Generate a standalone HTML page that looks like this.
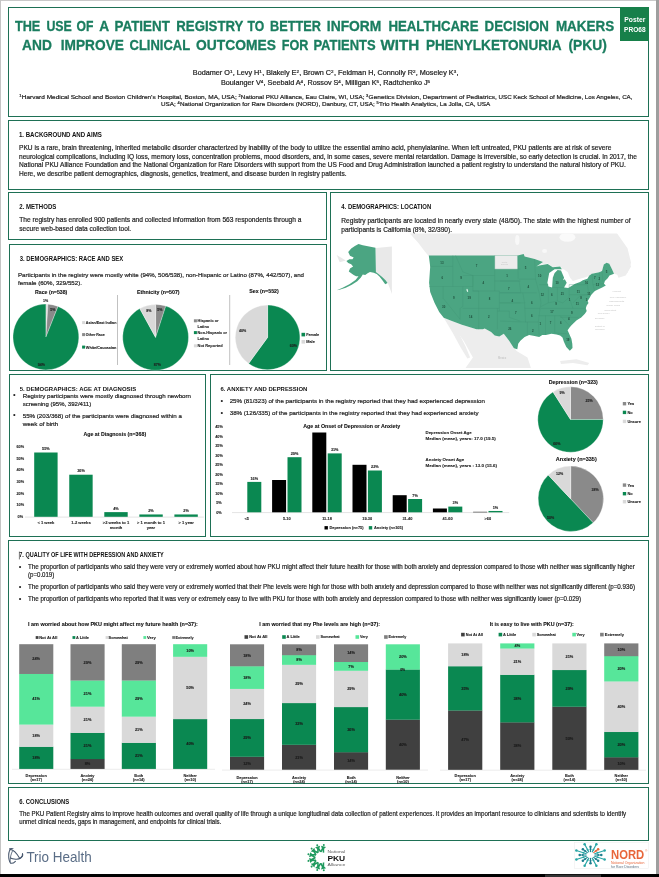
<!DOCTYPE html>
<html lang="en">
<head>
<meta charset="utf-8">
<title>The use of a patient registry to better inform healthcare decision makers - PKU poster</title>
<style>
html,body{margin:0;padding:0;background:#fff;}
body{width:659px;height:877px;overflow:hidden;position:relative;font-family:"Liberation Sans",sans-serif;}
svg{display:block;position:absolute;left:0;top:0;will-change:transform;}
svg text{font-family:"Liberation Sans",sans-serif;}
</style>
</head>
<body>
<svg width="659" height="877" viewBox="0 0 659 877" fill="#1f1f1f">
<rect x="0" y="0" width="659" height="877" fill="#fff"/>
<rect x="0" y="0" width="659" height="1" fill="#c9c9c9"/>
<rect x="0" y="0" width="1" height="877" fill="#c4c4c4"/>
<rect x="656" y="0" width="3" height="877" fill="#9e9e9e"/>
<rect x="0" y="874" width="659" height="3" fill="#000"/>
<rect x="545" y="874.6" width="56" height="2.4" fill="#333"/>
<rect x="8.5" y="7.5" width="640.0" height="109.0" fill="#fff" stroke="#1e7055" stroke-width="1.0"/>
<rect x="620" y="7" width="29" height="34" fill="#17804a"/>
<text x="634.8" y="21.7" font-size="6.6" font-weight="bold" fill="#fff" text-anchor="middle" textLength="21" lengthAdjust="spacingAndGlyphs">Poster</text>
<text x="634.8" y="31.6" font-size="6.6" font-weight="bold" fill="#fff" text-anchor="middle" textLength="21.5" lengthAdjust="spacingAndGlyphs">PRO68</text>
<text x="14.9" y="31.1" font-size="14.6" font-weight="bold" fill="#1a7d5f" textLength="25.4" lengthAdjust="spacingAndGlyphs" stroke="#1a7d5f" stroke-width="0.3">THE</text>
<text x="46.4" y="31.1" font-size="14.6" font-weight="bold" fill="#1a7d5f" textLength="25.5" lengthAdjust="spacingAndGlyphs" stroke="#1a7d5f" stroke-width="0.3">USE</text>
<text x="76.6" y="31.1" font-size="14.6" font-weight="bold" fill="#1a7d5f" textLength="16.9" lengthAdjust="spacingAndGlyphs" stroke="#1a7d5f" stroke-width="0.3">OF</text>
<text x="99.3" y="31.1" font-size="14.6" font-weight="bold" fill="#1a7d5f" textLength="9.9" lengthAdjust="spacingAndGlyphs" stroke="#1a7d5f" stroke-width="0.3">A</text>
<text x="114.6" y="31.1" font-size="14.6" font-weight="bold" fill="#1a7d5f" textLength="55.2" lengthAdjust="spacingAndGlyphs" stroke="#1a7d5f" stroke-width="0.3">PATIENT</text>
<text x="176.3" y="31.1" font-size="14.6" font-weight="bold" fill="#1a7d5f" textLength="67.1" lengthAdjust="spacingAndGlyphs" stroke="#1a7d5f" stroke-width="0.3">REGISTRY</text>
<text x="247.5" y="31.1" font-size="14.6" font-weight="bold" fill="#1a7d5f" textLength="16.7" lengthAdjust="spacingAndGlyphs" stroke="#1a7d5f" stroke-width="0.3">TO</text>
<text x="270.1" y="31.1" font-size="14.6" font-weight="bold" fill="#1a7d5f" textLength="50.9" lengthAdjust="spacingAndGlyphs" stroke="#1a7d5f" stroke-width="0.3">BETTER</text>
<text x="326.8" y="31.1" font-size="14.6" font-weight="bold" fill="#1a7d5f" textLength="54.6" lengthAdjust="spacingAndGlyphs" stroke="#1a7d5f" stroke-width="0.3">INFORM</text>
<text x="388.4" y="31.1" font-size="14.6" font-weight="bold" fill="#1a7d5f" textLength="90.1" lengthAdjust="spacingAndGlyphs" stroke="#1a7d5f" stroke-width="0.3">HEALTHCARE</text>
<text x="484.6" y="31.1" font-size="14.6" font-weight="bold" fill="#1a7d5f" textLength="64.4" lengthAdjust="spacingAndGlyphs" stroke="#1a7d5f" stroke-width="0.3">DECISION</text>
<text x="555.9" y="31.1" font-size="14.6" font-weight="bold" fill="#1a7d5f" textLength="58.4" lengthAdjust="spacingAndGlyphs" stroke="#1a7d5f" stroke-width="0.3">MAKERS</text>
<text x="22.1" y="50.2" font-size="14.6" font-weight="bold" fill="#1a7d5f" textLength="29.8" lengthAdjust="spacingAndGlyphs" stroke="#1a7d5f" stroke-width="0.3">AND</text>
<text x="60.8" y="50.2" font-size="14.6" font-weight="bold" fill="#1a7d5f" textLength="63.1" lengthAdjust="spacingAndGlyphs" stroke="#1a7d5f" stroke-width="0.3">IMPROVE</text>
<text x="129.6" y="50.2" font-size="14.6" font-weight="bold" fill="#1a7d5f" textLength="60.5" lengthAdjust="spacingAndGlyphs" stroke="#1a7d5f" stroke-width="0.3">CLINICAL</text>
<text x="196.0" y="50.2" font-size="14.6" font-weight="bold" fill="#1a7d5f" textLength="79.9" lengthAdjust="spacingAndGlyphs" stroke="#1a7d5f" stroke-width="0.3">OUTCOMES</text>
<text x="281.8" y="50.2" font-size="14.6" font-weight="bold" fill="#1a7d5f" textLength="26.7" lengthAdjust="spacingAndGlyphs" stroke="#1a7d5f" stroke-width="0.3">FOR</text>
<text x="313.4" y="50.2" font-size="14.6" font-weight="bold" fill="#1a7d5f" textLength="62.3" lengthAdjust="spacingAndGlyphs" stroke="#1a7d5f" stroke-width="0.3">PATIENTS</text>
<text x="380.4" y="50.2" font-size="14.6" font-weight="bold" fill="#1a7d5f" textLength="38.9" lengthAdjust="spacingAndGlyphs" stroke="#1a7d5f" stroke-width="0.3">WITH</text>
<text x="425.9" y="50.2" font-size="14.6" font-weight="bold" fill="#1a7d5f" textLength="135.8" lengthAdjust="spacingAndGlyphs" stroke="#1a7d5f" stroke-width="0.3">PHENYLKETONURIA</text>
<text x="568.4" y="50.2" font-size="14.6" font-weight="bold" fill="#1a7d5f" textLength="38.4" lengthAdjust="spacingAndGlyphs" stroke="#1a7d5f" stroke-width="0.3">(PKU)</text>
<text x="192.8" y="75.0" font-size="6.3" textLength="265.7" lengthAdjust="spacingAndGlyphs" stroke="#1f1f1f" stroke-width="0.2">Bodamer O<tspan font-size="62%" dy="-2.2">1</tspan><tspan dy="2.2" font-size="1"> </tspan>, Levy H<tspan font-size="62%" dy="-2.2">1</tspan><tspan dy="2.2" font-size="1"> </tspan>, Blakely E<tspan font-size="62%" dy="-2.2">2</tspan><tspan dy="2.2" font-size="1"> </tspan>, Brown C<tspan font-size="62%" dy="-2.2">2</tspan><tspan dy="2.2" font-size="1"> </tspan>, Feldman H, Connolly R<tspan font-size="62%" dy="-2.2">2</tspan><tspan dy="2.2" font-size="1"> </tspan>, Moseley K<tspan font-size="62%" dy="-2.2">3</tspan><tspan dy="2.2" font-size="1"> </tspan>,</text>
<text x="221" y="84.9" font-size="6.3" textLength="209.1" lengthAdjust="spacingAndGlyphs" stroke="#1f1f1f" stroke-width="0.2">Boulanger V<tspan font-size="62%" dy="-2.2">4</tspan><tspan dy="2.2" font-size="1"> </tspan>, Seebald A<tspan font-size="62%" dy="-2.2">4</tspan><tspan dy="2.2" font-size="1"> </tspan>, Rossov S<tspan font-size="62%" dy="-2.2">4</tspan><tspan dy="2.2" font-size="1"> </tspan>, Milligan K<tspan font-size="62%" dy="-2.2">5</tspan><tspan dy="2.2" font-size="1"> </tspan>, Radtchenko J<tspan font-size="62%" dy="-2.2">5</tspan><tspan dy="2.2" font-size="1"> </tspan></text>
<text x="19.3" y="98.9" font-size="5.9" textLength="217.4" lengthAdjust="spacingAndGlyphs" stroke="#1f1f1f" stroke-width="0.2"><tspan font-size="62%" dy="-2.2">1</tspan><tspan dy="2.2" font-size="1"> </tspan>Harvard Medical School and Boston Children’s Hospital, Boston, MA, USA;</text>
<text x="238.4" y="98.9" font-size="5.9" textLength="126.0" lengthAdjust="spacingAndGlyphs" stroke="#1f1f1f" stroke-width="0.2"><tspan font-size="62%" dy="-2.2">2</tspan><tspan dy="2.2" font-size="1"> </tspan>National PKU Alliance, Eau Claire, WI, USA;</text>
<text x="366.0" y="98.9" font-size="5.9" textLength="130.8" lengthAdjust="spacingAndGlyphs" stroke="#1f1f1f" stroke-width="0.2"><tspan font-size="62%" dy="-2.2">3</tspan><tspan dy="2.2" font-size="1"> </tspan>Genetics Division, Department of Pediatrics,</text>
<text x="498.5" y="98.9" font-size="5.9" textLength="134.0" lengthAdjust="spacingAndGlyphs" stroke="#1f1f1f" stroke-width="0.2">USC Keck School of Medicine, Los Angeles, CA,</text>
<text x="161" y="106.3" font-size="5.9" textLength="329.2" lengthAdjust="spacingAndGlyphs" stroke="#1f1f1f" stroke-width="0.2">USA; <tspan font-size="62%" dy="-2.2">4</tspan><tspan dy="2.2" font-size="1"> </tspan>National Organization for Rare Disorders (NORD), Danbury, CT, USA; <tspan font-size="62%" dy="-2.2">5</tspan><tspan dy="2.2" font-size="1"> </tspan>Trio Health Analytics, La Jolla, CA, USA</text>
<rect x="8.5" y="120.5" width="640.0" height="69.0" fill="#fff" stroke="#1e7055" stroke-width="1.0"/>
<text x="18.9" y="136.7" font-size="6.6" font-weight="bold" fill="#111" textLength="83" lengthAdjust="spacingAndGlyphs">1. BACKGROUND AND AIMS</text>
<text x="19" y="149.9" font-size="6.7" textLength="592.4" lengthAdjust="spacingAndGlyphs" stroke="#1f1f1f" stroke-width="0.2">PKU is a rare, brain threatening, inherited metabolic disorder characterized by inability of the body to utilize the essential amino acid, phenylalanine. When left untreated, PKU patients are at risk of severe</text>
<text x="19" y="158.5" font-size="6.7" textLength="617.8" lengthAdjust="spacingAndGlyphs" stroke="#1f1f1f" stroke-width="0.2">neurological complications, including IQ loss, memory loss, concentration problems, mood disorders, and, in some cases, severe mental retardation. Damage is irreversible, so early detection is crucial. In 2017, the</text>
<text x="19" y="167.1" font-size="6.7" textLength="606.8" lengthAdjust="spacingAndGlyphs" stroke="#1f1f1f" stroke-width="0.2">National PKU Alliance Foundation and the National Organization for Rare Disorders with support from the US Food and Drug Administration launched a patient registry to understand the natural history of PKU.</text>
<text x="19" y="175.7" font-size="6.7" textLength="327.5" lengthAdjust="spacingAndGlyphs" stroke="#1f1f1f" stroke-width="0.2">Here, we describe patient demographics, diagnosis, genetics, treatment, and disease burden in registry patients.</text>
<rect x="8.5" y="192.5" width="318.0" height="47.0" fill="#fff" stroke="#1e7055" stroke-width="1.0"/>
<text x="19.3" y="208.8" font-size="6.3" font-weight="bold" fill="#111" textLength="37" lengthAdjust="spacingAndGlyphs">2. METHODS</text>
<text x="19.3" y="222" font-size="6.9" textLength="282.2" lengthAdjust="spacingAndGlyphs" stroke="#1f1f1f" stroke-width="0.2">The registry has enrolled 900 patients and collected information from 563 respondents through a</text>
<text x="19.3" y="230.8" font-size="6.9" textLength="111.9" lengthAdjust="spacingAndGlyphs" stroke="#1f1f1f" stroke-width="0.2">secure web-based data collection tool.</text>
<rect x="9.5" y="244.5" width="317.0" height="126.0" fill="#fff" stroke="#1e7055" stroke-width="1.0"/>
<text x="19.8" y="260.6" font-size="6.3" font-weight="bold" fill="#111" textLength="103.4" lengthAdjust="spacingAndGlyphs">3. DEMOGRAPHICS: RACE AND SEX</text>
<text x="18" y="277.0" font-size="6.1" textLength="286" lengthAdjust="spacingAndGlyphs" stroke="#1f1f1f" stroke-width="0.2">Participants in the registry were mostly white (94%, 506/538), non-Hispanic or Latino (87%, 442/507), and</text>
<text x="18" y="285.1" font-size="6.1" textLength="63.9" lengthAdjust="spacingAndGlyphs" stroke="#1f1f1f" stroke-width="0.2">female (60%, 329/552).</text>
<text x="51.2" y="293.8" font-size="5.2" font-weight="bold" fill="#111" text-anchor="middle" textLength="32.3" lengthAdjust="spacingAndGlyphs" stroke="#111" stroke-width="0.1">Race (n=538)</text>
<path d="M45.90,337.00 L45.90,304.10 A32.9,32.9 0 0 1 47.97,304.16 Z" fill="#d9d9d9" stroke="#fff" stroke-width="0.3"/>
<path d="M45.90,337.00 L47.97,304.16 A32.9,32.9 0 0 1 58.01,306.41 Z" fill="#8a8a8a" stroke="#fff" stroke-width="0.3"/>
<path d="M45.90,337.00 L58.01,306.41 A32.9,32.9 0 1 1 45.90,304.10 Z" fill="#0a8851" stroke="#fff" stroke-width="0.3"/>
<text x="45.5" y="302" font-size="3.6" font-weight="bold" text-anchor="middle" stroke="#1f1f1f" stroke-width="0.1">1%</text>
<text x="52.8" y="310.6" font-size="3.6" font-weight="bold" text-anchor="middle" stroke="#1f1f1f" stroke-width="0.1">5%</text>
<text x="41.3" y="366.4" font-size="3.6" font-weight="bold" text-anchor="middle" stroke="#1f1f1f" stroke-width="0.1">94%</text>
<rect x="82.1" y="321.1" width="3" height="3" fill="#d9d9d9"/>
<text x="85.8" y="324.0" font-size="4.0" font-weight="bold" textLength="30.6" lengthAdjust="spacingAndGlyphs" stroke="#1f1f1f" stroke-width="0.1">Asian/East Indian</text>
<rect x="82.1" y="333.1" width="3" height="3" fill="#8a8a8a"/>
<text x="85.8" y="336.0" font-size="4.0" font-weight="bold" textLength="19" lengthAdjust="spacingAndGlyphs" stroke="#1f1f1f" stroke-width="0.1">Other Race</text>
<rect x="82.1" y="345.6" width="3" height="3" fill="#0a8851"/>
<text x="85.8" y="348.5" font-size="4.0" font-weight="bold" textLength="30.6" lengthAdjust="spacingAndGlyphs" stroke="#1f1f1f" stroke-width="0.1">White/Caucasian</text>
<line x1="117.5" y1="295" x2="117.5" y2="365" stroke="#a6a6a6" stroke-width="0.7"/>
<text x="158.3" y="293.8" font-size="5.2" font-weight="bold" fill="#111" text-anchor="middle" textLength="42.6" lengthAdjust="spacingAndGlyphs" stroke="#111" stroke-width="0.1">Ethnicity (n=507)</text>
<path d="M155.60,337.40 L155.60,304.50 A32.9,32.9 0 0 1 165.77,306.11 Z" fill="#8a8a8a" stroke="#fff" stroke-width="0.3"/>
<path d="M155.60,337.40 L165.77,306.11 A32.9,32.9 0 1 1 139.75,308.57 Z" fill="#0a8851" stroke="#fff" stroke-width="0.3"/>
<path d="M155.60,337.40 L139.75,308.57 A32.9,32.9 0 0 1 155.60,304.50 Z" fill="#d9d9d9" stroke="#fff" stroke-width="0.3"/>
<text x="148.8" y="311.6" font-size="3.6" font-weight="bold" text-anchor="middle" stroke="#1f1f1f" stroke-width="0.1">8%</text>
<text x="159.8" y="311.0" font-size="3.6" font-weight="bold" text-anchor="middle" stroke="#1f1f1f" stroke-width="0.1">5%</text>
<text x="157.4" y="366.4" font-size="3.6" font-weight="bold" text-anchor="middle" stroke="#1f1f1f" stroke-width="0.1">87%</text>
<rect x="193.9" y="319.3" width="3" height="3" fill="#8a8a8a"/>
<text x="197.6" y="322.2" font-size="4.0" font-weight="bold" textLength="21" lengthAdjust="spacingAndGlyphs" stroke="#1f1f1f" stroke-width="0.1">Hispanic or</text>
<text x="197.6" y="327.7" font-size="4.0" font-weight="bold" textLength="11.5" lengthAdjust="spacingAndGlyphs" stroke="#1f1f1f" stroke-width="0.1">Latino</text>
<rect x="193.9" y="331.1" width="3" height="3" fill="#0a8851"/>
<text x="197.6" y="334.0" font-size="4.0" font-weight="bold" textLength="29.4" lengthAdjust="spacingAndGlyphs" stroke="#1f1f1f" stroke-width="0.1">Non-Hispanic or</text>
<text x="197.6" y="339.5" font-size="4.0" font-weight="bold" textLength="11.5" lengthAdjust="spacingAndGlyphs" stroke="#1f1f1f" stroke-width="0.1">Latino</text>
<rect x="193.9" y="344.3" width="3" height="3" fill="#d9d9d9"/>
<text x="197.6" y="347.2" font-size="4.0" font-weight="bold" textLength="25" lengthAdjust="spacingAndGlyphs" stroke="#1f1f1f" stroke-width="0.1">Not Reported</text>
<line x1="229.7" y1="295" x2="229.7" y2="365" stroke="#a6a6a6" stroke-width="0.7"/>
<text x="264" y="292.9" font-size="5.2" font-weight="bold" fill="#111" text-anchor="middle" textLength="29.7" lengthAdjust="spacingAndGlyphs" stroke="#111" stroke-width="0.1">Sex (n=552)</text>
<path d="M267.60,337.40 L267.60,305.10 A32.3,32.3 0 1 1 248.61,363.53 Z" fill="#0a8851" stroke="#fff" stroke-width="0.3"/>
<path d="M267.60,337.40 L248.61,363.53 A32.3,32.3 0 0 1 267.60,305.10 Z" fill="#d9d9d9" stroke="#fff" stroke-width="0.3"/>
<text x="242.7" y="331.7" font-size="3.6" font-weight="bold" text-anchor="middle" stroke="#1f1f1f" stroke-width="0.1">40%</text>
<text x="293.4" y="346.7" font-size="3.6" font-weight="bold" text-anchor="middle" stroke="#1f1f1f" stroke-width="0.1">60%</text>
<rect x="301.5" y="332.8" width="3.6" height="3.6" fill="#0a8851"/>
<text x="306.2" y="336.1" font-size="4.0" font-weight="bold" textLength="13" lengthAdjust="spacingAndGlyphs" stroke="#1f1f1f" stroke-width="0.1">Female</text>
<rect x="301.5" y="340.0" width="3.6" height="3.6" fill="#d9d9d9"/>
<text x="306.2" y="343.3" font-size="4.0" font-weight="bold" textLength="8.6" lengthAdjust="spacingAndGlyphs" stroke="#1f1f1f" stroke-width="0.1">Male</text>
<rect x="330.5" y="192.5" width="318.0" height="178.0" fill="#fff" stroke="#1e7055" stroke-width="1.0"/>
<text x="341.3" y="208.8" font-size="6.3" font-weight="bold" fill="#111" textLength="89.9" lengthAdjust="spacingAndGlyphs">4. DEMOGRAPHICS: LOCATION</text>
<text x="341.3" y="223.4" font-size="6.9" textLength="289.3" lengthAdjust="spacingAndGlyphs" stroke="#1f1f1f" stroke-width="0.2">Registry participants are located in nearly every state (48/50). The state with the highest number of</text>
<text x="341.3" y="232.2" font-size="6.9" textLength="110.7" lengthAdjust="spacingAndGlyphs" stroke="#1f1f1f" stroke-width="0.2">participants is California (8%, 32/390).</text>
<g id="usmap">
<clipPath id="mapclip"><rect x="336" y="233.6" width="309" height="134.4"/></clipPath>
<g clip-path="url(#mapclip)">
<polygon points="409.1,232.7 418.2,242.8 423.7,250.0 427.3,254.6 428.8,255.9 520.2,255.9 520.0,255.9 524.6,257.3 534.6,260.1 542.8,262.4 539.2,265.5 545.5,264.2 552.8,267.3 560.1,266.4 562.8,269.7 561.0,270.4 564.1,277.7 566.7,282.8 564.1,287.6 568.3,287.9 574.7,283.9 580.1,282.1 582.9,280.3 587.4,278.8 589.3,275.5 592.0,273.7 599.3,272.3 602.0,271.0 603.8,264.6 606.6,262.8 609.3,263.7 612.0,269.2 614.0,273.7 620.2,275.5 627.5,272.8 631.1,262.8 627.5,248.2 616.6,232.7" fill="#ededed"/>
<polygon points="615.1,257.3 621.1,254.6 627.5,257.3 631.1,266.4 625.7,275.5 618.4,277.7 616.6,272.8 620.2,269.2 616.6,264.6" fill="#ededed"/>
<polygon points="536.4,266.4 539.2,265.2 547.7,263.5 553.2,267.2 560.1,266.2 562.8,269.3 554.6,269.3 549.2,267.3 542.8,266.4" fill="#fff"/>
<polygon points="561.0,270.4 564.1,277.7 566.7,282.8 564.1,287.6 568.3,287.9 574.7,283.9 580.1,282.1 582.9,280.3 587.4,278.8 589.3,275.9 583.8,277.7 578.3,279.2 572.9,281.0 570.1,277.7 567.8,272.3 563.8,269.2" fill="#fff"/>
<ellipse cx="517.3" cy="240.0" rx="2.2" ry="5" fill="#f8f8f8"/>
<ellipse cx="567.4" cy="237.3" rx="8" ry="4.5" fill="#fafafa"/>
<ellipse cx="544.6" cy="250.9" rx="2.5" ry="2" fill="#f8f8f8"/>
<polygon points="451.9,321.1 461.9,324.7 476.5,329.3 482.9,329.3 484.7,328.4 491.1,332.0 494.7,335.6 499.3,336.6 503.8,333.8 509.3,341.1 514.8,348.4 516.6,351.1 527.5,357.5 531.1,368.4 538.4,375.7 460.1,375.7 472.9,357.5 463.8,341.1 454.6,328.4" fill="#ededed"/>
<polygon points="443.7,317.8 451.9,321.1 458.3,332.0 465.6,346.6 470.1,357.5 467.4,358.4 460.1,346.6 452.8,332.9" fill="#ededed"/>
<polygon points="560.1,361.1 576.5,359.3 589.3,363.0 587.4,365.2 572.9,363.0 561.0,363.9" fill="#ededed"/>
<polygon points="428.8,255.5 430.2,266.4 429.1,282.8 430.2,291.9 434.6,302.9 439.2,312.0 443.7,317.8 451.9,321.1 461.9,324.7 476.5,329.3 482.9,329.3 484.7,328.4 491.1,332.0 494.7,335.6 499.3,336.6 503.8,333.8 509.3,341.1 513.8,348.0 514.8,348.4 517.3,349.3 518.2,343.8 520.4,340.7 524.6,337.1 529.1,334.9 534.6,336.0 539.2,337.1 542.3,334.9 545.9,335.1 551.4,333.8 556.5,334.6 560.1,335.6 562.5,337.5 563.9,341.8 566.3,347.1 569.8,350.8 572.5,348.0 572.3,343.8 571.4,338.7 569.4,334.2 567.6,330.2 570.3,326.5 573.0,323.8 576.7,320.2 581.2,317.4 584.9,313.8 586.7,311.1 585.8,308.3 586.7,305.6 588.5,302.9 587.6,301.0 589.4,298.3 591.3,294.7 594.9,291.0 598.5,289.2 602.2,287.4 605.8,285.6 604.0,283.7 604.9,281.0 607.7,278.3 609.5,275.5 614.0,273.7 612.0,269.2 609.3,263.7 606.6,262.8 603.8,264.6 602.0,271.0 599.3,272.3 592.0,273.7 589.3,275.5 587.4,278.8 582.9,280.3 580.1,282.1 574.7,283.9 568.3,287.9 564.1,287.6 566.7,282.8 564.8,279.2 563.0,280.3 564.1,277.7 561.0,270.4 557.6,270.1 554.6,273.0 552.8,277.7 552.1,287.4 548.5,286.5 547.4,282.8 549.2,273.0 554.6,269.3 561.9,269.3 560.1,266.4 552.8,267.3 547.7,263.9 539.2,265.5 536.4,266.4 543.0,262.1 534.6,259.1 524.6,256.6 523.7,254.0 517.7,255.5" fill="#4ba582"/>
<ellipse cx="467.3" cy="290.4" rx="0.7" ry="1.6" fill="#d9f3e6" transform="rotate(-20 467.3 290.4)"/>
<rect x="494.7" y="255.6" width="22.9" height="13.6" fill="#ececec"/>
<polyline points="430.1,266.4 452.8,266.4" fill="none" stroke="#419574" stroke-width="0.35"/>
<polyline points="452.8,255.5 452.8,286.5" fill="none" stroke="#419574" stroke-width="0.35"/>
<polyline points="455.6,255.5 462.8,271.9 472.9,275.5 472.9,291.0" fill="none" stroke="#419574" stroke-width="0.35"/>
<polyline points="429.1,286.5 472.9,286.5" fill="none" stroke="#419574" stroke-width="0.35"/>
<polyline points="443.2,286.5 443.2,298.3 460.1,319.3" fill="none" stroke="#419574" stroke-width="0.35"/>
<polyline points="462.8,286.5 462.8,306.5 460.1,308.3 460.1,319.3" fill="none" stroke="#419574" stroke-width="0.35"/>
<polyline points="472.9,291.0 478.7,291.0" fill="none" stroke="#419574" stroke-width="0.35"/>
<polyline points="478.7,291.0 478.7,329.3" fill="none" stroke="#419574" stroke-width="0.35"/>
<polyline points="462.8,275.5 494.7,275.5" fill="none" stroke="#419574" stroke-width="0.35"/>
<polyline points="472.9,275.5 472.9,286.5" fill="none" stroke="#419574" stroke-width="0.35"/>
<polyline points="472.9,291.0 499.3,291.0" fill="none" stroke="#419574" stroke-width="0.35"/>
<polyline points="494.7,255.5 494.7,291.0" fill="none" stroke="#419574" stroke-width="0.35"/>
<polyline points="462.8,308.3 499.3,308.3" fill="none" stroke="#419574" stroke-width="0.35"/>
<polyline points="499.3,291.0 499.3,311.1" fill="none" stroke="#419574" stroke-width="0.35"/>
<polyline points="497.4,308.3 497.4,329.3" fill="none" stroke="#419574" stroke-width="0.35"/>
<polyline points="494.7,269.2 520.2,269.2" fill="none" stroke="#419574" stroke-width="0.35"/>
<polyline points="494.7,281.0 520.2,281.0" fill="none" stroke="#419574" stroke-width="0.35"/>
<polyline points="499.3,292.8 520.2,292.8" fill="none" stroke="#419574" stroke-width="0.35"/>
<polyline points="499.3,302.9 520.2,302.9" fill="none" stroke="#419574" stroke-width="0.35"/>
<polyline points="497.4,311.1 509.3,311.1 509.3,317.4 520.2,321.1" fill="none" stroke="#419574" stroke-width="0.35"/>
<polyline points="517.7,255.5 518.2,279.2" fill="none" stroke="#419574" stroke-width="0.35"/>
<polyline points="519.1,279.2 535.5,279.2" fill="none" stroke="#419574" stroke-width="0.35"/>
<polyline points="500.0,281.0 519.1,281.0 520.9,292.8" fill="none" stroke="#419574" stroke-width="0.35"/>
<polyline points="500.0,292.8 536.4,292.8" fill="none" stroke="#419574" stroke-width="0.35"/>
<polyline points="500.0,302.9 524.6,302.9 525.5,322.0" fill="none" stroke="#419574" stroke-width="0.35"/>
<polyline points="522.8,292.8 524.6,302.9" fill="none" stroke="#419574" stroke-width="0.35"/>
<polyline points="524.6,308.3 540.1,308.3" fill="none" stroke="#419574" stroke-width="0.35"/>
<polyline points="525.5,322.0 538.3,322.0" fill="none" stroke="#419574" stroke-width="0.35"/>
<polyline points="500.0,321.1 525.5,322.0" fill="none" stroke="#419574" stroke-width="0.35"/>
<polyline points="527.3,322.0 527.3,335.6" fill="none" stroke="#419574" stroke-width="0.35"/>
<polyline points="535.5,279.2 539.2,292.8 541.0,302.9 540.1,308.3 538.3,322.0 539.2,334.7" fill="none" stroke="#419574" stroke-width="0.35"/>
<polyline points="534.6,259.1 535.5,279.2" fill="none" stroke="#419574" stroke-width="0.35"/>
<polyline points="539.2,284.6 548.3,284.6" fill="none" stroke="#419574" stroke-width="0.35"/>
<polyline points="548.3,287.4 548.3,302.9 541.0,306.5" fill="none" stroke="#419574" stroke-width="0.35"/>
<polyline points="557.4,287.4 557.4,301.0" fill="none" stroke="#419574" stroke-width="0.35"/>
<polyline points="552.1,287.4 564.1,287.6" fill="none" stroke="#419574" stroke-width="0.35"/>
<polyline points="569.2,284.6 569.2,297.4" fill="none" stroke="#419574" stroke-width="0.35"/>
<polyline points="569.2,284.6 587.4,284.6" fill="none" stroke="#419574" stroke-width="0.35"/>
<polyline points="569.2,294.7 587.4,294.7" fill="none" stroke="#419574" stroke-width="0.35"/>
<polyline points="541.0,308.3 572.9,308.3 585.6,308.3" fill="none" stroke="#419574" stroke-width="0.35"/>
<polyline points="538.3,315.6 571.0,315.6" fill="none" stroke="#419574" stroke-width="0.35"/>
<polyline points="545.5,315.6 545.5,334.7" fill="none" stroke="#419574" stroke-width="0.35"/>
<polyline points="554.6,315.6 554.6,332.9" fill="none" stroke="#419574" stroke-width="0.35"/>
<polyline points="554.6,332.9 566.7,333.8" fill="none" stroke="#419574" stroke-width="0.35"/>
<polyline points="560.1,315.6 570.1,326.5" fill="none" stroke="#419574" stroke-width="0.35"/>
<polyline points="560.1,317.4 578.3,317.4" fill="none" stroke="#419574" stroke-width="0.35"/>
<polyline points="548.3,302.9 557.4,301.0 562.8,302.9 569.2,297.4" fill="none" stroke="#419574" stroke-width="0.35"/>
<polyline points="569.2,297.4 572.9,308.3" fill="none" stroke="#419574" stroke-width="0.35"/>
<polyline points="572.9,302.9 580.1,295.6 587.4,294.7" fill="none" stroke="#419574" stroke-width="0.35"/>
<polyline points="587.4,284.6 588.3,291.0 591.1,294.7" fill="none" stroke="#419574" stroke-width="0.35"/>
<polyline points="592.0,273.7 592.9,284.6 594.7,291.0" fill="none" stroke="#419574" stroke-width="0.35"/>
<polyline points="592.9,284.6 603.8,283.7" fill="none" stroke="#419574" stroke-width="0.35"/>
<polyline points="599.3,272.3 599.8,282.8" fill="none" stroke="#419574" stroke-width="0.35"/>
<polyline points="602.0,271.0 602.9,281.9" fill="none" stroke="#419574" stroke-width="0.35"/>
<text x="441.9" y="263.8" font-size="2.9" font-weight="bold" fill="#1f4f3c" text-anchor="middle">13</text>
<text x="476.5" y="266.5" font-size="2.9" font-weight="bold" fill="#1f4f3c" text-anchor="middle">7</text>
<text x="442.3" y="279.3" font-size="2.9" font-weight="bold" fill="#1f4f3c" text-anchor="middle">6</text>
<text x="461.0" y="278.7" font-size="2.9" font-weight="bold" fill="#1f4f3c" text-anchor="middle">9</text>
<text x="483.4" y="283.8" font-size="2.9" font-weight="bold" fill="#1f4f3c" text-anchor="middle">4</text>
<text x="453.7" y="299.3" font-size="2.9" font-weight="bold" fill="#1f4f3c" text-anchor="middle">9</text>
<text x="469.2" y="299.3" font-size="2.9" font-weight="bold" fill="#1f4f3c" text-anchor="middle">19</text>
<text x="489.6" y="300.2" font-size="2.9" font-weight="bold" fill="#1f4f3c" text-anchor="middle">8</text>
<text x="443.7" y="307.5" font-size="2.9" font-weight="bold" fill="#1f4f3c" text-anchor="middle">30</text>
<text x="470.7" y="318.1" font-size="2.9" font-weight="bold" fill="#1f4f3c" text-anchor="middle">14</text>
<text x="488.7" y="318.1" font-size="2.9" font-weight="bold" fill="#1f4f3c" text-anchor="middle">2</text>
<text x="507.1" y="277.4" font-size="2.9" font-weight="bold" fill="#1f4f3c" text-anchor="middle">1</text>
<text x="508.9" y="290.2" font-size="2.9" font-weight="bold" fill="#1f4f3c" text-anchor="middle">7</text>
<text x="512.4" y="302.0" font-size="2.9" font-weight="bold" fill="#1f4f3c" text-anchor="middle">4</text>
<text x="515.8" y="314.4" font-size="2.9" font-weight="bold" fill="#1f4f3c" text-anchor="middle">7</text>
<text x="509.8" y="330.3" font-size="2.9" font-weight="bold" fill="#1f4f3c" text-anchor="middle">26</text>
<text x="525.5" y="269.3" font-size="2.9" font-weight="bold" fill="#1f4f3c" text-anchor="middle">5</text>
<text x="539.7" y="277.4" font-size="2.9" font-weight="bold" fill="#1f4f3c" text-anchor="middle">10</text>
<text x="528.2" y="288.4" font-size="2.9" font-weight="bold" fill="#1f4f3c" text-anchor="middle">4</text>
<text x="557.0" y="283.5" font-size="2.9" font-weight="bold" fill="#1f4f3c" text-anchor="middle">10</text>
<text x="542.3" y="296.2" font-size="2.9" font-weight="bold" fill="#1f4f3c" text-anchor="middle">12</text>
<text x="551.9" y="296.2" font-size="2.9" font-weight="bold" fill="#1f4f3c" text-anchor="middle">6</text>
<text x="562.3" y="295.1" font-size="2.9" font-weight="bold" fill="#1f4f3c" text-anchor="middle">21</text>
<text x="578.3" y="292.9" font-size="2.9" font-weight="bold" fill="#1f4f3c" text-anchor="middle">11</text>
<text x="586.5" y="283.8" font-size="2.9" font-weight="bold" fill="#1f4f3c" text-anchor="middle">16</text>
<text x="531.9" y="303.5" font-size="2.9" font-weight="bold" fill="#1f4f3c" text-anchor="middle">6</text>
<text x="556.1" y="305.3" font-size="2.9" font-weight="bold" fill="#1f4f3c" text-anchor="middle">9</text>
<text x="569.6" y="301.1" font-size="2.9" font-weight="bold" fill="#1f4f3c" text-anchor="middle">1</text>
<text x="577.4" y="305.3" font-size="2.9" font-weight="bold" fill="#1f4f3c" text-anchor="middle">11</text>
<text x="551.9" y="313.3" font-size="2.9" font-weight="bold" fill="#1f4f3c" text-anchor="middle">17</text>
<text x="571.9" y="314.4" font-size="2.9" font-weight="bold" fill="#1f4f3c" text-anchor="middle">9</text>
<text x="531.9" y="316.6" font-size="2.9" font-weight="bold" fill="#1f4f3c" text-anchor="middle">6</text>
<text x="540.4" y="324.8" font-size="2.9" font-weight="bold" fill="#1f4f3c" text-anchor="middle">1</text>
<text x="550.5" y="323.9" font-size="2.9" font-weight="bold" fill="#1f4f3c" text-anchor="middle">7</text>
<text x="560.7" y="324.3" font-size="2.9" font-weight="bold" fill="#1f4f3c" text-anchor="middle">6</text>
<text x="568.9" y="319.7" font-size="2.9" font-weight="bold" fill="#1f4f3c" text-anchor="middle">4</text>
<text x="532.8" y="332.1" font-size="2.9" font-weight="bold" fill="#1f4f3c" text-anchor="middle">2</text>
<text x="567.8" y="341.4" font-size="2.9" font-weight="bold" fill="#1f4f3c" text-anchor="middle">19</text>
<text x="588.9" y="295.3" font-size="2.9" font-weight="bold" fill="#1f4f3c" text-anchor="middle">11</text>
<text x="597.4" y="285.6" font-size="2.9" font-weight="bold" fill="#1f4f3c" text-anchor="middle">12</text>
<text x="594.7" y="278.7" font-size="2.9" font-weight="bold" fill="#1f4f3c" text-anchor="middle">7</text>
<text x="599.3" y="280.2" font-size="2.9" font-weight="bold" fill="#1f4f3c" text-anchor="middle">2</text>
<text x="606.6" y="272.5" font-size="2.9" font-weight="bold" fill="#1f4f3c" text-anchor="middle">5</text>
<text x="581.1" y="298.8" font-size="2.9" font-weight="bold" fill="#1f4f3c" text-anchor="middle">8</text>
<text x="586.5" y="301.1" font-size="2.9" font-weight="bold" fill="#1f4f3c" text-anchor="middle">3</text>
<text x="616.6" y="292.4" font-size="2.3" fill="#c4c4c4" text-anchor="middle">Vermont</text>
<text x="618.0" y="297.8" font-size="2.3" fill="#c4c4c4" text-anchor="middle">New Hampshire</text>
<text x="616.6" y="302.2" font-size="2.3" fill="#c4c4c4" text-anchor="middle">Massachusetts</text>
<text x="613.3" y="305.8" font-size="2.3" fill="#c4c4c4" text-anchor="middle">Rhode Island</text>
<text x="610.2" y="310.6" font-size="2.3" fill="#c4c4c4" text-anchor="middle">Connecticut</text>
<text x="603.8" y="314.2" font-size="2.3" fill="#c4c4c4" text-anchor="middle">New Jersey</text>
<text x="599.8" y="319.1" font-size="2.3" fill="#c4c4c4" text-anchor="middle">Delaware</text>
<text x="599.8" y="327.0" font-size="2.3" fill="#c4c4c4" text-anchor="middle">District of</text>
<text x="599.8" y="330.1" font-size="2.3" fill="#c4c4c4" text-anchor="middle">Columbia</text>
<text x="502.2" y="358.6" font-size="2.6" fill="#bdbdbd" text-anchor="middle">Mexico</text>
<text x="504.5" y="262.8" font-size="2.2" fill="#c8c8c8" text-anchor="middle">North</text>
<text x="504.5" y="265.2" font-size="2.2" fill="#c8c8c8" text-anchor="middle">Dakota</text>
</g>
<polygon points="375.9,248.0 391.9,246.6 391.9,293.9 390.1,289.0 388.0,283.6 385.8,280.5 382.2,276.9 378.5,273.9 375.9,272.0" fill="#e9e9e9"/>
<polygon points="336.7,255.1 345.8,260.5 339.7,262.3" fill="#e9e9e9"/>
<polygon points="358.5,243.9 362.8,245.3 375.5,247.8 375.9,272.0 378.5,273.9 382.2,276.9 385.8,280.5 387.6,283.0 385.2,284.2 382.2,279.9 379.2,276.3 376.7,273.9 373.7,272.7 370.0,272.0 367.6,273.3 365.2,275.1 362.8,274.5 360.9,277.5 357.3,281.2 351.8,284.8 345.8,287.8 340.3,289.6 336.7,290.3 342.1,288.1 349.4,284.2 355.5,279.9 358.5,276.3 356.1,276.3 353.7,275.1 351.2,273.3 348.8,271.4 350.0,268.4 353.1,266.6 351.2,264.2 348.2,262.9 346.4,261.1 349.4,259.3 352.5,259.3 353.7,257.5 350.0,255.7 348.2,252.0 351.2,248.4 354.9,246.0" fill="#4ba582"/>
</g>
<rect x="9.5" y="374.5" width="196.0" height="162.0" fill="#fff" stroke="#1e7055" stroke-width="1.0"/>
<text x="19.7" y="390.9" font-size="6.1" font-weight="bold" fill="#111" textLength="116.5" lengthAdjust="spacingAndGlyphs">5. DEMOGRAPHICS: AGE AT DIAGNOSIS</text>
<text x="13.1" y="397.0" font-size="7.5">•</text>
<text x="13.1" y="417.0" font-size="7.5">•</text>
<text x="22.7" y="397.8" font-size="6.2" textLength="168.3" lengthAdjust="spacingAndGlyphs" stroke="#1f1f1f" stroke-width="0.2">Registry participants were mostly diagnosed through newborn</text>
<text x="22.7" y="406.2" font-size="6.2" textLength="68.5" lengthAdjust="spacingAndGlyphs" stroke="#1f1f1f" stroke-width="0.2">screening (95%, 392/411)</text>
<text x="22.7" y="417.8" font-size="6.2" textLength="159.3" lengthAdjust="spacingAndGlyphs" stroke="#1f1f1f" stroke-width="0.2">55% (203/368) of the participants were diagnosed within a</text>
<text x="22.7" y="425.8" font-size="6.2" textLength="35.7" lengthAdjust="spacingAndGlyphs" stroke="#1f1f1f" stroke-width="0.2">week of birth</text>
<text x="114.8" y="436.0" font-size="5.5" font-weight="bold" fill="#111" text-anchor="middle" textLength="62.7" lengthAdjust="spacingAndGlyphs" stroke="#111" stroke-width="0.1">Age at Diagnosis (n=368)</text>
<text x="20.3" y="518.1" font-size="3.8" font-weight="bold" text-anchor="middle" stroke="#1f1f1f" stroke-width="0.1">0%</text>
<text x="20.3" y="506.4" font-size="3.8" font-weight="bold" text-anchor="middle" stroke="#1f1f1f" stroke-width="0.1">10%</text>
<text x="20.3" y="494.7" font-size="3.8" font-weight="bold" text-anchor="middle" stroke="#1f1f1f" stroke-width="0.1">20%</text>
<text x="20.3" y="483.0" font-size="3.8" font-weight="bold" text-anchor="middle" stroke="#1f1f1f" stroke-width="0.1">30%</text>
<text x="20.3" y="471.3" font-size="3.8" font-weight="bold" text-anchor="middle" stroke="#1f1f1f" stroke-width="0.1">40%</text>
<text x="20.3" y="459.6" font-size="3.8" font-weight="bold" text-anchor="middle" stroke="#1f1f1f" stroke-width="0.1">50%</text>
<text x="20.3" y="448.0" font-size="3.8" font-weight="bold" text-anchor="middle" stroke="#1f1f1f" stroke-width="0.1">60%</text>
<line x1="25" y1="517.1" x2="203.7" y2="517.1" stroke="#d0d0d0" stroke-width="0.6"/>
<rect x="34.20" y="452.50" width="23.40" height="64.30" fill="#0a8851"/>
<text x="45.9" y="450.1" font-size="3.8" font-weight="bold" text-anchor="middle" stroke="#1f1f1f" stroke-width="0.1">55%</text>
<text x="45.9" y="523.8" font-size="4.1" font-weight="bold" text-anchor="middle" stroke="#1f1f1f" stroke-width="0.1">&lt; 1 week</text>
<rect x="69.25" y="474.71" width="23.40" height="42.09" fill="#0a8851"/>
<text x="81.0" y="472.3" font-size="3.8" font-weight="bold" text-anchor="middle" stroke="#1f1f1f" stroke-width="0.1">36%</text>
<text x="81.0" y="523.8" font-size="4.1" font-weight="bold" text-anchor="middle" stroke="#1f1f1f" stroke-width="0.1">1-2 weeks</text>
<rect x="104.30" y="512.12" width="23.40" height="4.68" fill="#0a8851"/>
<text x="116.0" y="509.7" font-size="3.8" font-weight="bold" text-anchor="middle" stroke="#1f1f1f" stroke-width="0.1">4%</text>
<text x="116.0" y="523.8" font-size="4.1" font-weight="bold" text-anchor="middle" stroke="#1f1f1f" stroke-width="0.1">&gt;2 weeks to 1</text>
<text x="116.0" y="529.4" font-size="4.1" font-weight="bold" text-anchor="middle" stroke="#1f1f1f" stroke-width="0.1">month</text>
<rect x="139.35" y="514.46" width="23.40" height="2.34" fill="#0a8851"/>
<text x="151.0" y="512.1" font-size="3.8" font-weight="bold" text-anchor="middle" stroke="#1f1f1f" stroke-width="0.1">2%</text>
<text x="151.0" y="523.8" font-size="4.1" font-weight="bold" text-anchor="middle" stroke="#1f1f1f" stroke-width="0.1">&gt; 1 month to 1</text>
<text x="151.0" y="529.4" font-size="4.1" font-weight="bold" text-anchor="middle" stroke="#1f1f1f" stroke-width="0.1">year</text>
<rect x="174.40" y="514.46" width="23.40" height="2.34" fill="#0a8851"/>
<text x="186.1" y="512.1" font-size="3.8" font-weight="bold" text-anchor="middle" stroke="#1f1f1f" stroke-width="0.1">2%</text>
<text x="186.1" y="523.8" font-size="4.1" font-weight="bold" text-anchor="middle" stroke="#1f1f1f" stroke-width="0.1">&gt; 1 year</text>
<rect x="210.5" y="374.5" width="438.0" height="162.0" fill="#fff" stroke="#1e7055" stroke-width="1.0"/>
<text x="220.5" y="390.9" font-size="6.1" font-weight="bold" fill="#111" textLength="86.8" lengthAdjust="spacingAndGlyphs">6. ANXIETY AND DEPRESSION</text>
<text x="220.5" y="403.09999999999997" font-size="7.5">•</text>
<text x="220.5" y="414.8" font-size="7.5">•</text>
<text x="229.7" y="402.9" font-size="6.2" textLength="255.2" lengthAdjust="spacingAndGlyphs" stroke="#1f1f1f" stroke-width="0.2">25% (81/323) of the participants in the registry reported that they had experienced depression</text>
<text x="229.7" y="414.6" font-size="6.2" textLength="248.9" lengthAdjust="spacingAndGlyphs" stroke="#1f1f1f" stroke-width="0.2">38% (126/335) of the participants in the registry reported that they had experienced anxiety</text>
<text x="351.7" y="427.9" font-size="5.5" font-weight="bold" fill="#111" text-anchor="middle" textLength="97" lengthAdjust="spacingAndGlyphs" stroke="#111" stroke-width="0.1">Age at Onset of Depression or Anxiety</text>
<text x="219.0" y="513.6" font-size="3.8" font-weight="bold" text-anchor="middle" stroke="#1f1f1f" stroke-width="0.1">0%</text>
<text x="219.0" y="504.1" font-size="3.8" font-weight="bold" text-anchor="middle" stroke="#1f1f1f" stroke-width="0.1">5%</text>
<text x="219.0" y="494.6" font-size="3.8" font-weight="bold" text-anchor="middle" stroke="#1f1f1f" stroke-width="0.1">10%</text>
<text x="219.0" y="485.1" font-size="3.8" font-weight="bold" text-anchor="middle" stroke="#1f1f1f" stroke-width="0.1">15%</text>
<text x="219.0" y="475.6" font-size="3.8" font-weight="bold" text-anchor="middle" stroke="#1f1f1f" stroke-width="0.1">20%</text>
<text x="219.0" y="466.1" font-size="3.8" font-weight="bold" text-anchor="middle" stroke="#1f1f1f" stroke-width="0.1">25%</text>
<text x="219.0" y="456.6" font-size="3.8" font-weight="bold" text-anchor="middle" stroke="#1f1f1f" stroke-width="0.1">30%</text>
<text x="219.0" y="447.1" font-size="3.8" font-weight="bold" text-anchor="middle" stroke="#1f1f1f" stroke-width="0.1">35%</text>
<text x="219.0" y="437.6" font-size="3.8" font-weight="bold" text-anchor="middle" stroke="#1f1f1f" stroke-width="0.1">40%</text>
<text x="219.0" y="428.1" font-size="3.8" font-weight="bold" text-anchor="middle" stroke="#1f1f1f" stroke-width="0.1">45%</text>
<line x1="232" y1="512.6" x2="509.2" y2="512.6" stroke="#d0d0d0" stroke-width="0.6"/>
<rect x="247.30" y="481.90" width="14.00" height="30.40" fill="#0a8851"/>
<text x="254.3" y="479.7" font-size="3.8" font-weight="bold" text-anchor="middle" stroke="#1f1f1f" stroke-width="0.1">16%</text>
<text x="246.6" y="519.7" font-size="3.9" font-weight="bold" text-anchor="middle" stroke="#1f1f1f" stroke-width="0.1">&lt;5</text>
<rect x="272.10" y="480.00" width="14.00" height="32.30" fill="#000"/>
<rect x="287.50" y="457.20" width="14.00" height="55.10" fill="#0a8851"/>
<text x="294.5" y="455.0" font-size="3.8" font-weight="bold" text-anchor="middle" stroke="#1f1f1f" stroke-width="0.1">29%</text>
<text x="286.8" y="519.7" font-size="3.9" font-weight="bold" text-anchor="middle" stroke="#1f1f1f" stroke-width="0.1">5-10</text>
<rect x="312.30" y="432.50" width="14.00" height="79.80" fill="#000"/>
<rect x="327.70" y="453.40" width="14.00" height="58.90" fill="#0a8851"/>
<text x="334.7" y="451.2" font-size="3.8" font-weight="bold" text-anchor="middle" stroke="#1f1f1f" stroke-width="0.1">31%</text>
<text x="327.0" y="519.7" font-size="3.9" font-weight="bold" text-anchor="middle" stroke="#1f1f1f" stroke-width="0.1">11-18</text>
<rect x="352.50" y="464.80" width="14.00" height="47.50" fill="#000"/>
<rect x="367.90" y="470.50" width="14.00" height="41.80" fill="#0a8851"/>
<text x="374.9" y="468.3" font-size="3.8" font-weight="bold" text-anchor="middle" stroke="#1f1f1f" stroke-width="0.1">22%</text>
<text x="367.2" y="519.7" font-size="3.9" font-weight="bold" text-anchor="middle" stroke="#1f1f1f" stroke-width="0.1">19-30</text>
<rect x="392.70" y="495.20" width="14.00" height="17.10" fill="#000"/>
<rect x="408.10" y="499.00" width="14.00" height="13.30" fill="#0a8851"/>
<text x="415.1" y="496.8" font-size="3.8" font-weight="bold" text-anchor="middle" stroke="#1f1f1f" stroke-width="0.1">7%</text>
<text x="407.4" y="519.7" font-size="3.9" font-weight="bold" text-anchor="middle" stroke="#1f1f1f" stroke-width="0.1">31-40</text>
<rect x="432.90" y="508.50" width="14.00" height="3.80" fill="#000"/>
<rect x="448.30" y="506.60" width="14.00" height="5.70" fill="#0a8851"/>
<text x="455.3" y="504.4" font-size="3.8" font-weight="bold" text-anchor="middle" stroke="#1f1f1f" stroke-width="0.1">3%</text>
<text x="447.6" y="519.7" font-size="3.9" font-weight="bold" text-anchor="middle" stroke="#1f1f1f" stroke-width="0.1">41-60</text>
<rect x="473.10" y="511.82" width="14.00" height="0.47" fill="#000"/>
<rect x="488.50" y="510.97" width="14.00" height="1.33" fill="#0a8851"/>
<text x="495.5" y="508.8" font-size="3.8" font-weight="bold" text-anchor="middle" stroke="#1f1f1f" stroke-width="0.1">1%</text>
<text x="487.8" y="519.7" font-size="3.9" font-weight="bold" text-anchor="middle" stroke="#1f1f1f" stroke-width="0.1">&gt;60</text>
<rect x="324.5" y="526.1" width="3.4" height="3.4" fill="#000"/>
<text x="329.4" y="529.1" font-size="3.6" font-weight="bold" textLength="34.2" lengthAdjust="spacingAndGlyphs" stroke="#1f1f1f" stroke-width="0.1">Depression (n=75)</text>
<rect x="368.8" y="526.1" width="3.4" height="3.4" fill="#0a8851"/>
<text x="374" y="529.1" font-size="3.6" font-weight="bold" textLength="29" lengthAdjust="spacingAndGlyphs" stroke="#1f1f1f" stroke-width="0.1">Anxiety (n=105)</text>
<text x="425.6" y="434.4" font-size="4.4" font-weight="bold" textLength="46.0" lengthAdjust="spacingAndGlyphs" stroke="#1f1f1f" stroke-width="0.1">Depression Onset Age</text>
<text x="425.6" y="440.4" font-size="4.4" font-weight="bold" textLength="70.2" lengthAdjust="spacingAndGlyphs" stroke="#1f1f1f" stroke-width="0.1">Median (mean), years: 17.0 (19.5)</text>
<text x="425.6" y="460.9" font-size="4.4" font-weight="bold" textLength="38.6" lengthAdjust="spacingAndGlyphs" stroke="#1f1f1f" stroke-width="0.1">Anxiety Onset Age</text>
<text x="425.6" y="466.6" font-size="4.4" font-weight="bold" textLength="71.4" lengthAdjust="spacingAndGlyphs" stroke="#1f1f1f" stroke-width="0.1">Median (mean), years : 13.0 (15.6)</text>
<text x="573.3" y="383.9" font-size="5.2" font-weight="bold" fill="#111" text-anchor="middle" textLength="49" lengthAdjust="spacingAndGlyphs" stroke="#111" stroke-width="0.1">Depression (n=323)</text>
<path d="M570.50,419.50 L570.50,386.80 A32.7,32.7 0 0 1 603.20,419.50 Z" fill="#8a8a8a" stroke="#fff" stroke-width="0.3"/>
<path d="M570.50,419.50 L603.20,419.50 A32.7,32.7 0 1 1 552.98,391.89 Z" fill="#0a8851" stroke="#fff" stroke-width="0.3"/>
<path d="M570.50,419.50 L552.98,391.89 A32.7,32.7 0 0 1 570.50,386.80 Z" fill="#d9d9d9" stroke="#fff" stroke-width="0.3"/>
<text x="589.1" y="401.9" font-size="3.6" font-weight="bold" text-anchor="middle" stroke="#1f1f1f" stroke-width="0.1">25%</text>
<text x="556.8" y="445.0" font-size="3.6" font-weight="bold" text-anchor="middle" stroke="#1f1f1f" stroke-width="0.1">66%</text>
<text x="562" y="393.9" font-size="3.6" font-weight="bold" text-anchor="middle" stroke="#1f1f1f" stroke-width="0.1">9%</text>
<rect x="622.8" y="402.0" width="3.4" height="3.4" fill="#8a8a8a"/>
<text x="627.4" y="405.09999999999997" font-size="3.9" font-weight="bold" stroke="#1f1f1f" stroke-width="0.1">Yes</text>
<rect x="622.8" y="410.7" width="3.4" height="3.4" fill="#0a8851"/>
<text x="627.4" y="413.79999999999995" font-size="3.9" font-weight="bold" stroke="#1f1f1f" stroke-width="0.1">No</text>
<rect x="622.8" y="419.7" width="3.4" height="3.4" fill="#d9d9d9"/>
<text x="627.4" y="422.79999999999995" font-size="3.9" font-weight="bold" stroke="#1f1f1f" stroke-width="0.1">Unsure</text>
<text x="576.3" y="461" font-size="5.2" font-weight="bold" fill="#111" text-anchor="middle" textLength="41" lengthAdjust="spacingAndGlyphs" stroke="#111" stroke-width="0.1">Anxiety (n=335)</text>
<path d="M570.70,498.90 L570.70,466.10 A32.8,32.8 0 0 1 593.15,522.81 Z" fill="#8a8a8a" stroke="#fff" stroke-width="0.3"/>
<path d="M570.70,498.90 L593.15,522.81 A32.8,32.8 0 0 1 548.25,474.99 Z" fill="#0a8851" stroke="#fff" stroke-width="0.3"/>
<path d="M570.70,498.90 L548.25,474.99 A32.8,32.8 0 0 1 570.70,466.10 Z" fill="#d9d9d9" stroke="#fff" stroke-width="0.3"/>
<text x="595" y="491.2" font-size="3.6" font-weight="bold" text-anchor="middle" stroke="#1f1f1f" stroke-width="0.1">38%</text>
<text x="550.6" y="518.6" font-size="3.6" font-weight="bold" text-anchor="middle" stroke="#1f1f1f" stroke-width="0.1">50%</text>
<text x="559.6" y="474.5" font-size="3.6" font-weight="bold" text-anchor="middle" stroke="#1f1f1f" stroke-width="0.1">12%</text>
<rect x="622.8" y="483.40000000000003" width="3.4" height="3.4" fill="#8a8a8a"/>
<text x="627.4" y="486.5" font-size="3.9" font-weight="bold" stroke="#1f1f1f" stroke-width="0.1">Yes</text>
<rect x="622.8" y="492.0" width="3.4" height="3.4" fill="#0a8851"/>
<text x="627.4" y="495.09999999999997" font-size="3.9" font-weight="bold" stroke="#1f1f1f" stroke-width="0.1">No</text>
<rect x="622.8" y="500.0" width="3.4" height="3.4" fill="#d9d9d9"/>
<text x="627.4" y="503.09999999999997" font-size="3.9" font-weight="bold" stroke="#1f1f1f" stroke-width="0.1">Unsure</text>
<rect x="8.5" y="540.5" width="640.0" height="243.0" fill="#fff" stroke="#1e7055" stroke-width="1.0"/>
<text x="19.3" y="557.4" font-size="6.5" font-weight="bold" fill="#111" textLength="144.4" lengthAdjust="spacingAndGlyphs">7. QUALITY OF LIFE WITH DEPRESSION AND ANXIETY</text>
<line x1="19.4" y1="551.6" x2="19.4" y2="559.4" stroke="#222" stroke-width="0.6"/>
<text x="18.8" y="568.6" font-size="7.5">•</text>
<text x="28" y="568.8" font-size="6.7" textLength="606.7" lengthAdjust="spacingAndGlyphs" stroke="#1f1f1f" stroke-width="0.2">The proportion of participants who said they were very or extremely worried about how PKU might affect their future health for those with both anxiety and depression compared to those with neither was significantly higher</text>
<text x="18.8" y="588.8000000000001" font-size="7.5">•</text>
<text x="28" y="589.0" font-size="6.7" textLength="607" lengthAdjust="spacingAndGlyphs" stroke="#1f1f1f" stroke-width="0.2">The proportion of participants who said they were very or extremely worried that their Phe levels were high for those with both anxiety and depression compared to those with neither was not significantly different (p=0.936)</text>
<text x="18.8" y="600.7" font-size="7.5">•</text>
<text x="28" y="600.9" font-size="6.7" textLength="553.1" lengthAdjust="spacingAndGlyphs" stroke="#1f1f1f" stroke-width="0.2">The proportion of participants who reported that it was very or extremely easy to live with PKU for those with both anxiety and depression compared to those with neither was significantly lower (p=0.029)</text>
<text x="28" y="577.0" font-size="6.7" textLength="26.3" lengthAdjust="spacingAndGlyphs" stroke="#1f1f1f" stroke-width="0.2">(p=0.019)</text>
<text x="28" y="625.6" font-size="5.5" font-weight="bold" fill="#111" textLength="169.8" lengthAdjust="spacingAndGlyphs" stroke="#111" stroke-width="0.1">I am worried about how PKU might affect my future health (n=37):</text>
<rect x="35.699999999999996" y="636.1" width="2.8" height="2.8" fill="#404040"/>
<text x="39.2" y="638.8" font-size="3.6" font-weight="bold" textLength="18.1" lengthAdjust="spacingAndGlyphs" stroke="#1f1f1f" stroke-width="0.1">Not At All</text>
<rect x="72.5" y="636.1" width="2.8" height="2.8" fill="#0a8851"/>
<text x="76.1" y="638.8" font-size="3.6" font-weight="bold" textLength="12.8" lengthAdjust="spacingAndGlyphs" stroke="#1f1f1f" stroke-width="0.1">A Little</text>
<rect x="105.60000000000001" y="636.1" width="2.8" height="2.8" fill="#d9d9d9"/>
<text x="108.6" y="638.8" font-size="3.6" font-weight="bold" textLength="19.2" lengthAdjust="spacingAndGlyphs" stroke="#1f1f1f" stroke-width="0.1">Somewhat</text>
<rect x="143.4" y="636.1" width="2.8" height="2.8" fill="#57e69a"/>
<text x="147" y="638.8" font-size="3.6" font-weight="bold" textLength="8.7" lengthAdjust="spacingAndGlyphs" stroke="#1f1f1f" stroke-width="0.1">Very</text>
<rect x="172.20000000000002" y="636.1" width="2.8" height="2.8" fill="#7f7f7f"/>
<text x="175.6" y="638.8" font-size="3.6" font-weight="bold" textLength="18" lengthAdjust="spacingAndGlyphs" stroke="#1f1f1f" stroke-width="0.1">Extremely</text>
<rect x="19.20" y="746.68" width="34.10" height="22.37" fill="#0a8851"/>
<text x="36.2" y="759.1" font-size="3.9" font-weight="bold" fill="#1a1a1a" text-anchor="middle" stroke="#1a1a1a" stroke-width="0.1">18%</text>
<rect x="19.20" y="724.45" width="34.10" height="22.37" fill="#d9d9d9"/>
<text x="36.2" y="736.9" font-size="3.9" font-weight="bold" fill="#1a1a1a" text-anchor="middle" stroke="#1a1a1a" stroke-width="0.1">18%</text>
<rect x="19.20" y="673.83" width="34.10" height="50.77" fill="#57e69a"/>
<text x="36.2" y="700.4" font-size="3.9" font-weight="bold" fill="#1a1a1a" text-anchor="middle" stroke="#1a1a1a" stroke-width="0.1">41%</text>
<rect x="19.20" y="644.20" width="34.10" height="29.78" fill="#7f7f7f"/>
<text x="36.2" y="660.3" font-size="3.9" font-weight="bold" fill="#1a1a1a" text-anchor="middle" stroke="#1a1a1a" stroke-width="0.1">24%</text>
<text x="36.2" y="776.8" font-size="3.9" font-weight="bold" text-anchor="middle" stroke="#1f1f1f" stroke-width="0.1">Depression</text>
<text x="36.2" y="781.3" font-size="3.9" font-weight="bold" text-anchor="middle" stroke="#1f1f1f" stroke-width="0.1">(n=17)</text>
<rect x="70.50" y="758.92" width="34.10" height="10.13" fill="#404040"/>
<text x="87.5" y="765.2" font-size="3.9" font-weight="bold" fill="#1a1a1a" text-anchor="middle" stroke="#1a1a1a" stroke-width="0.1">8%</text>
<rect x="70.50" y="732.74" width="34.10" height="26.34" fill="#0a8851"/>
<text x="87.5" y="747.1" font-size="3.9" font-weight="bold" fill="#1a1a1a" text-anchor="middle" stroke="#1a1a1a" stroke-width="0.1">21%</text>
<rect x="70.50" y="706.55" width="34.10" height="26.34" fill="#d9d9d9"/>
<text x="87.5" y="720.9" font-size="3.9" font-weight="bold" fill="#1a1a1a" text-anchor="middle" stroke="#1a1a1a" stroke-width="0.1">21%</text>
<rect x="70.50" y="680.36" width="34.10" height="26.34" fill="#57e69a"/>
<text x="87.5" y="694.8" font-size="3.9" font-weight="bold" fill="#1a1a1a" text-anchor="middle" stroke="#1a1a1a" stroke-width="0.1">21%</text>
<rect x="70.50" y="644.20" width="34.10" height="36.31" fill="#7f7f7f"/>
<text x="87.5" y="663.6" font-size="3.9" font-weight="bold" fill="#1a1a1a" text-anchor="middle" stroke="#1a1a1a" stroke-width="0.1">29%</text>
<text x="87.5" y="776.8" font-size="3.9" font-weight="bold" text-anchor="middle" stroke="#1f1f1f" stroke-width="0.1">Anxiety</text>
<text x="87.5" y="781.3" font-size="3.9" font-weight="bold" text-anchor="middle" stroke="#1f1f1f" stroke-width="0.1">(n=24)</text>
<rect x="121.80" y="742.71" width="34.10" height="26.34" fill="#0a8851"/>
<text x="138.8" y="757.1" font-size="3.9" font-weight="bold" fill="#1a1a1a" text-anchor="middle" stroke="#1a1a1a" stroke-width="0.1">21%</text>
<rect x="121.80" y="716.53" width="34.10" height="26.34" fill="#d9d9d9"/>
<text x="138.8" y="730.9" font-size="3.9" font-weight="bold" fill="#1a1a1a" text-anchor="middle" stroke="#1a1a1a" stroke-width="0.1">21%</text>
<rect x="121.80" y="680.36" width="34.10" height="36.31" fill="#57e69a"/>
<text x="138.8" y="699.7" font-size="3.9" font-weight="bold" fill="#1a1a1a" text-anchor="middle" stroke="#1a1a1a" stroke-width="0.1">29%</text>
<rect x="121.80" y="644.20" width="34.10" height="36.31" fill="#7f7f7f"/>
<text x="138.8" y="663.6" font-size="3.9" font-weight="bold" fill="#1a1a1a" text-anchor="middle" stroke="#1a1a1a" stroke-width="0.1">29%</text>
<text x="138.8" y="776.8" font-size="3.9" font-weight="bold" text-anchor="middle" stroke="#1f1f1f" stroke-width="0.1">Both</text>
<text x="138.8" y="781.3" font-size="3.9" font-weight="bold" text-anchor="middle" stroke="#1f1f1f" stroke-width="0.1">(n=14)</text>
<rect x="173.10" y="719.02" width="34.10" height="50.03" fill="#0a8851"/>
<text x="190.2" y="745.3" font-size="3.9" font-weight="bold" fill="#1a1a1a" text-anchor="middle" stroke="#1a1a1a" stroke-width="0.1">40%</text>
<rect x="173.10" y="656.67" width="34.10" height="62.50" fill="#d9d9d9"/>
<text x="190.2" y="689.1" font-size="3.9" font-weight="bold" fill="#1a1a1a" text-anchor="middle" stroke="#1a1a1a" stroke-width="0.1">50%</text>
<rect x="173.10" y="644.20" width="34.10" height="12.62" fill="#57e69a"/>
<text x="190.2" y="651.7" font-size="3.9" font-weight="bold" fill="#1a1a1a" text-anchor="middle" stroke="#1a1a1a" stroke-width="0.1">10%</text>
<text x="190.2" y="776.8" font-size="3.9" font-weight="bold" text-anchor="middle" stroke="#1f1f1f" stroke-width="0.1">Neither</text>
<text x="190.2" y="781.3" font-size="3.9" font-weight="bold" text-anchor="middle" stroke="#1f1f1f" stroke-width="0.1">(n=10)</text>
<text x="259.3" y="626.3" font-size="5.5" font-weight="bold" fill="#111" textLength="120.80000000000001" lengthAdjust="spacingAndGlyphs" stroke="#111" stroke-width="0.1">I am worried that my Phe levels are high (n=37):</text>
<rect x="244.5" y="635.2" width="3.6" height="3.6" fill="#404040"/>
<text x="249.2" y="638.3" font-size="3.6" font-weight="bold" textLength="18.2" lengthAdjust="spacingAndGlyphs" stroke="#1f1f1f" stroke-width="0.1">Not At All</text>
<rect x="282.2" y="635.2" width="3.6" height="3.6" fill="#0a8851"/>
<text x="286.6" y="638.3" font-size="3.6" font-weight="bold" textLength="13.2" lengthAdjust="spacingAndGlyphs" stroke="#1f1f1f" stroke-width="0.1">A Little</text>
<rect x="316.0" y="635.2" width="3.6" height="3.6" fill="#d9d9d9"/>
<text x="320.4" y="638.3" font-size="3.6" font-weight="bold" textLength="19.2" lengthAdjust="spacingAndGlyphs" stroke="#1f1f1f" stroke-width="0.1">Somewhat</text>
<rect x="355.5" y="635.2" width="3.6" height="3.6" fill="#57e69a"/>
<text x="359.9" y="638.3" font-size="3.6" font-weight="bold" textLength="8" lengthAdjust="spacingAndGlyphs" stroke="#1f1f1f" stroke-width="0.1">Very</text>
<rect x="384.1" y="635.2" width="3.6" height="3.6" fill="#7f7f7f"/>
<text x="388.5" y="638.3" font-size="3.6" font-weight="bold" textLength="17.8" lengthAdjust="spacingAndGlyphs" stroke="#1f1f1f" stroke-width="0.1">Extremely</text>
<rect x="230.00" y="756.63" width="34.10" height="13.22" fill="#404040"/>
<text x="247.1" y="764.5" font-size="3.9" font-weight="bold" fill="#1a1a1a" text-anchor="middle" stroke="#1a1a1a" stroke-width="0.1">12%</text>
<rect x="230.00" y="718.94" width="34.10" height="37.85" fill="#0a8851"/>
<text x="247.1" y="739.1" font-size="3.9" font-weight="bold" fill="#1a1a1a" text-anchor="middle" stroke="#1a1a1a" stroke-width="0.1">29%</text>
<rect x="230.00" y="688.78" width="34.10" height="30.31" fill="#d9d9d9"/>
<text x="247.1" y="705.2" font-size="3.9" font-weight="bold" fill="#1a1a1a" text-anchor="middle" stroke="#1a1a1a" stroke-width="0.1">24%</text>
<rect x="230.00" y="666.16" width="34.10" height="22.77" fill="#57e69a"/>
<text x="247.1" y="678.8" font-size="3.9" font-weight="bold" fill="#1a1a1a" text-anchor="middle" stroke="#1a1a1a" stroke-width="0.1">18%</text>
<rect x="230.00" y="644.30" width="34.10" height="22.01" fill="#7f7f7f"/>
<text x="247.1" y="656.5" font-size="3.9" font-weight="bold" fill="#1a1a1a" text-anchor="middle" stroke="#1a1a1a" stroke-width="0.1">18%</text>
<text x="247.1" y="778.6" font-size="3.9" font-weight="bold" text-anchor="middle" stroke="#1f1f1f" stroke-width="0.1">Depression</text>
<text x="247.1" y="783.1" font-size="3.9" font-weight="bold" text-anchor="middle" stroke="#1f1f1f" stroke-width="0.1">(n=17)</text>
<rect x="282.00" y="744.67" width="34.10" height="25.18" fill="#404040"/>
<text x="299.1" y="758.5" font-size="3.9" font-weight="bold" fill="#1a1a1a" text-anchor="middle" stroke="#1a1a1a" stroke-width="0.1">21%</text>
<rect x="282.00" y="703.00" width="34.10" height="41.82" fill="#0a8851"/>
<text x="299.1" y="725.1" font-size="3.9" font-weight="bold" fill="#1a1a1a" text-anchor="middle" stroke="#1a1a1a" stroke-width="0.1">33%</text>
<rect x="282.00" y="664.70" width="34.10" height="38.45" fill="#d9d9d9"/>
<text x="299.1" y="685.1" font-size="3.9" font-weight="bold" fill="#1a1a1a" text-anchor="middle" stroke="#1a1a1a" stroke-width="0.1">29%</text>
<rect x="282.00" y="655.06" width="34.10" height="9.79" fill="#57e69a"/>
<text x="299.1" y="661.2" font-size="3.9" font-weight="bold" fill="#1a1a1a" text-anchor="middle" stroke="#1a1a1a" stroke-width="0.1">8%</text>
<rect x="282.00" y="644.30" width="34.10" height="10.91" fill="#7f7f7f"/>
<text x="299.1" y="651.0" font-size="3.9" font-weight="bold" fill="#1a1a1a" text-anchor="middle" stroke="#1a1a1a" stroke-width="0.1">8%</text>
<text x="299.1" y="778.6" font-size="3.9" font-weight="bold" text-anchor="middle" stroke="#1f1f1f" stroke-width="0.1">Anxiety</text>
<text x="299.1" y="783.1" font-size="3.9" font-weight="bold" text-anchor="middle" stroke="#1f1f1f" stroke-width="0.1">(n=24)</text>
<rect x="334.00" y="752.14" width="34.10" height="17.71" fill="#404040"/>
<text x="351.1" y="762.2" font-size="3.9" font-weight="bold" fill="#1a1a1a" text-anchor="middle" stroke="#1a1a1a" stroke-width="0.1">14%</text>
<rect x="334.00" y="707.00" width="34.10" height="45.29" fill="#0a8851"/>
<text x="351.1" y="730.9" font-size="3.9" font-weight="bold" fill="#1a1a1a" text-anchor="middle" stroke="#1a1a1a" stroke-width="0.1">36%</text>
<rect x="334.00" y="670.63" width="34.10" height="36.52" fill="#d9d9d9"/>
<text x="351.1" y="690.1" font-size="3.9" font-weight="bold" fill="#1a1a1a" text-anchor="middle" stroke="#1a1a1a" stroke-width="0.1">29%</text>
<rect x="334.00" y="661.86" width="34.10" height="8.93" fill="#57e69a"/>
<text x="351.1" y="667.5" font-size="3.9" font-weight="bold" fill="#1a1a1a" text-anchor="middle" stroke="#1a1a1a" stroke-width="0.1">7%</text>
<rect x="334.00" y="644.30" width="34.10" height="17.71" fill="#7f7f7f"/>
<text x="351.1" y="654.4" font-size="3.9" font-weight="bold" fill="#1a1a1a" text-anchor="middle" stroke="#1a1a1a" stroke-width="0.1">14%</text>
<text x="351.1" y="778.6" font-size="3.9" font-weight="bold" text-anchor="middle" stroke="#1f1f1f" stroke-width="0.1">Both</text>
<text x="351.1" y="783.1" font-size="3.9" font-weight="bold" text-anchor="middle" stroke="#1f1f1f" stroke-width="0.1">(n=14)</text>
<rect x="385.80" y="719.54" width="34.10" height="50.31" fill="#404040"/>
<text x="402.9" y="745.9" font-size="3.9" font-weight="bold" fill="#1a1a1a" text-anchor="middle" stroke="#1a1a1a" stroke-width="0.1">40%</text>
<rect x="385.80" y="669.38" width="34.10" height="50.31" fill="#0a8851"/>
<text x="402.9" y="695.8" font-size="3.9" font-weight="bold" fill="#1a1a1a" text-anchor="middle" stroke="#1a1a1a" stroke-width="0.1">40%</text>
<rect x="385.80" y="644.30" width="34.10" height="25.23" fill="#57e69a"/>
<text x="402.9" y="658.1" font-size="3.9" font-weight="bold" fill="#1a1a1a" text-anchor="middle" stroke="#1a1a1a" stroke-width="0.1">20%</text>
<text x="402.9" y="778.6" font-size="3.9" font-weight="bold" text-anchor="middle" stroke="#1f1f1f" stroke-width="0.1">Neither</text>
<text x="402.9" y="783.1" font-size="3.9" font-weight="bold" text-anchor="middle" stroke="#1f1f1f" stroke-width="0.1">(n=10)</text>
<text x="489.8" y="625.6" font-size="5.5" font-weight="bold" fill="#111" textLength="83.99999999999994" lengthAdjust="spacingAndGlyphs" stroke="#111" stroke-width="0.1">It is easy to live with PKU (n=37):</text>
<rect x="461.1" y="632.8000000000001" width="3.6" height="3.6" fill="#404040"/>
<text x="465.8" y="635.9" font-size="3.6" font-weight="bold" textLength="17" lengthAdjust="spacingAndGlyphs" stroke="#1f1f1f" stroke-width="0.1">Not At All</text>
<rect x="498.6" y="632.8000000000001" width="3.6" height="3.6" fill="#0a8851"/>
<text x="503" y="635.9" font-size="3.6" font-weight="bold" textLength="13.2" lengthAdjust="spacingAndGlyphs" stroke="#1f1f1f" stroke-width="0.1">A Little</text>
<rect x="532.3" y="632.8000000000001" width="3.6" height="3.6" fill="#d9d9d9"/>
<text x="536.7" y="635.9" font-size="3.6" font-weight="bold" textLength="19.1" lengthAdjust="spacingAndGlyphs" stroke="#1f1f1f" stroke-width="0.1">Somewhat</text>
<rect x="572.3" y="632.8000000000001" width="3.6" height="3.6" fill="#57e69a"/>
<text x="576.6" y="635.9" font-size="3.6" font-weight="bold" textLength="8" lengthAdjust="spacingAndGlyphs" stroke="#1f1f1f" stroke-width="0.1">Very</text>
<rect x="600.0999999999999" y="632.8000000000001" width="3.6" height="3.6" fill="#7f7f7f"/>
<text x="604.8" y="635.9" font-size="3.6" font-weight="bold" textLength="19.1" lengthAdjust="spacingAndGlyphs" stroke="#1f1f1f" stroke-width="0.1">Extremely</text>
<rect x="448.10" y="710.39" width="34.20" height="59.56" fill="#404040"/>
<text x="465.2" y="741.4" font-size="3.9" font-weight="bold" fill="#1a1a1a" text-anchor="middle" stroke="#1a1a1a" stroke-width="0.1">47%</text>
<rect x="448.10" y="666.15" width="34.20" height="44.39" fill="#0a8851"/>
<text x="465.2" y="689.6" font-size="3.9" font-weight="bold" fill="#1a1a1a" text-anchor="middle" stroke="#1a1a1a" stroke-width="0.1">35%</text>
<rect x="448.10" y="643.40" width="34.20" height="22.90" fill="#d9d9d9"/>
<text x="465.2" y="656.1" font-size="3.9" font-weight="bold" fill="#1a1a1a" text-anchor="middle" stroke="#1a1a1a" stroke-width="0.1">18%</text>
<text x="465.2" y="776.9" font-size="3.9" font-weight="bold" text-anchor="middle" stroke="#1f1f1f" stroke-width="0.1">Depression</text>
<text x="465.2" y="781.4" font-size="3.9" font-weight="bold" text-anchor="middle" stroke="#1f1f1f" stroke-width="0.1">(n=17)</text>
<rect x="500.20" y="722.24" width="34.20" height="47.71" fill="#404040"/>
<text x="517.3" y="747.3" font-size="3.9" font-weight="bold" fill="#1a1a1a" text-anchor="middle" stroke="#1a1a1a" stroke-width="0.1">38%</text>
<rect x="500.20" y="674.69" width="34.20" height="47.71" fill="#0a8851"/>
<text x="517.3" y="699.8" font-size="3.9" font-weight="bold" fill="#1a1a1a" text-anchor="middle" stroke="#1a1a1a" stroke-width="0.1">38%</text>
<rect x="500.20" y="648.41" width="34.20" height="26.43" fill="#d9d9d9"/>
<text x="517.3" y="662.8" font-size="3.9" font-weight="bold" fill="#1a1a1a" text-anchor="middle" stroke="#1a1a1a" stroke-width="0.1">21%</text>
<rect x="500.20" y="643.40" width="34.20" height="5.16" fill="#57e69a"/>
<text x="517.3" y="647.2" font-size="3.9" font-weight="bold" fill="#1a1a1a" text-anchor="middle" stroke="#1a1a1a" stroke-width="0.1">4%</text>
<text x="517.3" y="776.9" font-size="3.9" font-weight="bold" text-anchor="middle" stroke="#1f1f1f" stroke-width="0.1">Anxiety</text>
<text x="517.3" y="781.4" font-size="3.9" font-weight="bold" text-anchor="middle" stroke="#1f1f1f" stroke-width="0.1">(n=24)</text>
<rect x="552.30" y="706.60" width="34.20" height="63.35" fill="#404040"/>
<text x="569.4" y="739.5" font-size="3.9" font-weight="bold" fill="#1a1a1a" text-anchor="middle" stroke="#1a1a1a" stroke-width="0.1">50%</text>
<rect x="552.30" y="669.94" width="34.20" height="36.81" fill="#0a8851"/>
<text x="569.4" y="689.6" font-size="3.9" font-weight="bold" fill="#1a1a1a" text-anchor="middle" stroke="#1a1a1a" stroke-width="0.1">29%</text>
<rect x="552.30" y="643.40" width="34.20" height="26.69" fill="#d9d9d9"/>
<text x="569.4" y="658.0" font-size="3.9" font-weight="bold" fill="#1a1a1a" text-anchor="middle" stroke="#1a1a1a" stroke-width="0.1">21%</text>
<text x="569.4" y="776.9" font-size="3.9" font-weight="bold" text-anchor="middle" stroke="#1f1f1f" stroke-width="0.1">Both</text>
<text x="569.4" y="781.4" font-size="3.9" font-weight="bold" text-anchor="middle" stroke="#1f1f1f" stroke-width="0.1">(n=14)</text>
<rect x="604.20" y="757.16" width="34.20" height="12.79" fill="#404040"/>
<text x="621.3" y="764.8" font-size="3.9" font-weight="bold" fill="#1a1a1a" text-anchor="middle" stroke="#1a1a1a" stroke-width="0.1">10%</text>
<rect x="604.20" y="731.88" width="34.20" height="25.43" fill="#0a8851"/>
<text x="621.3" y="745.8" font-size="3.9" font-weight="bold" fill="#1a1a1a" text-anchor="middle" stroke="#1a1a1a" stroke-width="0.1">20%</text>
<rect x="604.20" y="681.32" width="34.20" height="50.71" fill="#d9d9d9"/>
<text x="621.3" y="707.9" font-size="3.9" font-weight="bold" fill="#1a1a1a" text-anchor="middle" stroke="#1a1a1a" stroke-width="0.1">40%</text>
<rect x="604.20" y="656.04" width="34.20" height="25.43" fill="#57e69a"/>
<text x="621.3" y="670.0" font-size="3.9" font-weight="bold" fill="#1a1a1a" text-anchor="middle" stroke="#1a1a1a" stroke-width="0.1">20%</text>
<rect x="604.20" y="643.40" width="34.20" height="12.79" fill="#7f7f7f"/>
<text x="621.3" y="651.0" font-size="3.9" font-weight="bold" fill="#1a1a1a" text-anchor="middle" stroke="#1a1a1a" stroke-width="0.1">10%</text>
<text x="621.3" y="776.9" font-size="3.9" font-weight="bold" text-anchor="middle" stroke="#1f1f1f" stroke-width="0.1">Neither</text>
<text x="621.3" y="781.4" font-size="3.9" font-weight="bold" text-anchor="middle" stroke="#1f1f1f" stroke-width="0.1">(n=10)</text>
<text x="402.6" y="671.2" font-size="3.4" font-weight="bold" fill="#1a1a1a" text-anchor="middle" stroke="#1a1a1a" stroke-width="0.1">0%</text>
<line x1="12" y1="769.3" x2="215" y2="769.3" stroke="#d9d9d9" stroke-width="0.5"/>
<line x1="222" y1="770.1" x2="428" y2="770.1" stroke="#d9d9d9" stroke-width="0.5"/>
<line x1="440" y1="770.2" x2="646" y2="770.2" stroke="#d9d9d9" stroke-width="0.5"/>
<rect x="8.5" y="787.5" width="640.0" height="53.0" fill="#fff" stroke="#1e7055" stroke-width="1.0"/>
<text x="19.3" y="804.0" font-size="6.5" font-weight="bold" fill="#111" textLength="50" lengthAdjust="spacingAndGlyphs">6. CONCLUSIONS</text>
<text x="19.3" y="816.1" font-size="6.7" textLength="606.9" lengthAdjust="spacingAndGlyphs" stroke="#1f1f1f" stroke-width="0.2">The PKU Patient Registry aims to improve health outcomes and overall quality of life through a unique longitudinal data collection of patient experiences. It provides an important resource to clinicians and scientists to identify</text>
<text x="19.3" y="824.2" font-size="6.7" textLength="202" lengthAdjust="spacingAndGlyphs" stroke="#1f1f1f" stroke-width="0.2">unmet clinical needs, gaps in management, and endpoints for clinical trials.</text>
<g fill="none" stroke="#44546b" stroke-width="1.05" stroke-linecap="round">
<path d="M9.9,849.5 C14.3,849.5 17.8,855 19.8,858.6 C21.4,857.8 23.3,855.8 22.5,853.8"/>
<path d="M11.5,848.7 C7.9,849.9 7.9,859.8 10.7,863.3 C12.3,863.5 14.3,862.5 15.4,861.3"/>
<path d="M22.5,853.8 C22.9,857 19.8,859.4 15.8,859.2 C13.5,859 11.5,858.6 10.5,858"/>
<path d="M12.5,850.9 C11.1,853.8 9.9,857.8 10.1,861.7" stroke-width="0.8"/>
<path d="M9.6,848.5 L13,848.5" stroke-width="0.8"/>
</g>
<text x="26.4" y="861.6" font-size="14.2" fill="#5a6d86" textLength="65.4" lengthAdjust="spacingAndGlyphs">Trio Health</text>
<g transform="translate(320.9,857.6)">
<g transform="translate(2.02,8.77) rotate(167.0)"><circle cx="0" cy="-3.9" r="1.0" fill="#1f9a5e"/><path d="M-2.6,-2.6 L2.6,-2.6 L1.2,-0.4 L2.2,3.6 L0.6,3.6 L0,1.2 L-0.6,3.6 L-2.2,3.6 L-1.2,-0.4 Z" fill="#1f9a5e"/></g>
<g transform="translate(-2.55,8.63) rotate(196.4)"><circle cx="0" cy="-3.9" r="1.0" fill="#1f9a5e"/><path d="M-2.6,-2.6 L2.6,-2.6 L1.2,-0.4 L2.2,3.6 L0.6,3.6 L0,1.2 L-0.6,3.6 L-2.2,3.6 L-1.2,-0.4 Z" fill="#1f9a5e"/></g>
<g transform="translate(-6.46,6.27) rotate(225.9)"><circle cx="0" cy="-3.9" r="1.0" fill="#1f9a5e"/><path d="M-2.6,-2.6 L2.6,-2.6 L1.2,-0.4 L2.2,3.6 L0.6,3.6 L0,1.2 L-0.6,3.6 L-2.2,3.6 L-1.2,-0.4 Z" fill="#1f9a5e"/></g>
<g transform="translate(-8.70,2.29) rotate(255.3)"><circle cx="0" cy="-3.9" r="1.0" fill="#1f9a5e"/><path d="M-2.6,-2.6 L2.6,-2.6 L1.2,-0.4 L2.2,3.6 L0.6,3.6 L0,1.2 L-0.6,3.6 L-2.2,3.6 L-1.2,-0.4 Z" fill="#1f9a5e"/></g>
<g transform="translate(-8.70,-2.29) rotate(284.7)"><circle cx="0" cy="-3.9" r="1.0" fill="#1f9a5e"/><path d="M-2.6,-2.6 L2.6,-2.6 L1.2,-0.4 L2.2,3.6 L0.6,3.6 L0,1.2 L-0.6,3.6 L-2.2,3.6 L-1.2,-0.4 Z" fill="#1f9a5e"/></g>
<g transform="translate(-6.46,-6.27) rotate(314.1)"><circle cx="0" cy="-3.9" r="1.0" fill="#1f9a5e"/><path d="M-2.6,-2.6 L2.6,-2.6 L1.2,-0.4 L2.2,3.6 L0.6,3.6 L0,1.2 L-0.6,3.6 L-2.2,3.6 L-1.2,-0.4 Z" fill="#1f9a5e"/></g>
<g transform="translate(-2.55,-8.63) rotate(343.6)"><circle cx="0" cy="-3.9" r="1.0" fill="#1f9a5e"/><path d="M-2.6,-2.6 L2.6,-2.6 L1.2,-0.4 L2.2,3.6 L0.6,3.6 L0,1.2 L-0.6,3.6 L-2.2,3.6 L-1.2,-0.4 Z" fill="#1f9a5e"/></g>
<g transform="translate(2.02,-8.77) rotate(373.0)"><circle cx="0" cy="-3.9" r="1.0" fill="#1f9a5e"/><path d="M-2.6,-2.6 L2.6,-2.6 L1.2,-0.4 L2.2,3.6 L0.6,3.6 L0,1.2 L-0.6,3.6 L-2.2,3.6 L-1.2,-0.4 Z" fill="#1f9a5e"/></g>
</g>
<text x="327.6" y="853.2" font-size="3.7" fill="#5c5c5c" textLength="17.8" lengthAdjust="spacingAndGlyphs">National</text>
<text x="327.4" y="860.5" font-size="7.6" font-weight="bold" fill="#111" textLength="17.8" lengthAdjust="spacingAndGlyphs">PKU</text>
<text x="327.6" y="865.5" font-size="3.7" fill="#5c5c5c" textLength="17.8" lengthAdjust="spacingAndGlyphs">Alliance</text>
<rect x="574.7" y="842.6" width="73.8" height="26" fill="none" stroke="#ececec" stroke-width="0.5"/>
<g transform="translate(590.5,855.0)" stroke-linecap="round">
<line x1="0.00" y1="-3.40" x2="0.00" y2="-8.20" stroke="#1e7f8e" stroke-width="1.15"/>
<circle cx="0.00" cy="-8.20" r="1.25" fill="#1e7f8e"/>
<circle cx="0.00" cy="-5.80" r="1.0" fill="#1e7f8e"/>
<line x1="1.72" y1="-3.14" x2="5.86" y2="-10.72" stroke="#2aa7a6" stroke-width="1.15"/>
<circle cx="5.86" cy="-10.72" r="1.25" fill="#2aa7a6"/>
<circle cx="2.93" cy="-5.36" r="1.0" fill="#2aa7a6"/>
<line x1="3.17" y1="-2.40" x2="7.65" y2="-5.80" stroke="#e8663a" stroke-width="1.15"/>
<circle cx="7.65" cy="-5.80" r="1.25" fill="#e8663a"/>
<circle cx="5.41" cy="-4.10" r="1.0" fill="#e8663a"/>
<line x1="4.15" y1="-1.30" x2="14.15" y2="-4.44" stroke="#2aa7a6" stroke-width="1.15"/>
<circle cx="14.15" cy="-4.44" r="1.25" fill="#2aa7a6"/>
<circle cx="7.07" cy="-2.22" r="1.0" fill="#2aa7a6"/>
<line x1="4.49" y1="0.00" x2="10.82" y2="0.00" stroke="#1e7f8e" stroke-width="1.15"/>
<circle cx="10.82" cy="0.00" r="1.25" fill="#1e7f8e"/>
<circle cx="7.66" cy="0.00" r="1.0" fill="#1e7f8e"/>
<line x1="4.15" y1="1.30" x2="14.15" y2="4.44" stroke="#2aa7a6" stroke-width="1.15"/>
<circle cx="14.15" cy="4.44" r="1.25" fill="#2aa7a6"/>
<circle cx="7.07" cy="2.22" r="1.0" fill="#2aa7a6"/>
<line x1="3.17" y1="2.40" x2="7.65" y2="5.80" stroke="#1e7f8e" stroke-width="1.15"/>
<circle cx="7.65" cy="5.80" r="1.25" fill="#1e7f8e"/>
<circle cx="5.41" cy="4.10" r="1.0" fill="#1e7f8e"/>
<line x1="1.72" y1="3.14" x2="5.86" y2="10.72" stroke="#2aa7a6" stroke-width="1.15"/>
<circle cx="5.86" cy="10.72" r="1.25" fill="#2aa7a6"/>
<circle cx="2.93" cy="5.36" r="1.0" fill="#2aa7a6"/>
<line x1="0.00" y1="3.40" x2="0.00" y2="8.20" stroke="#1e7f8e" stroke-width="1.15"/>
<circle cx="0.00" cy="8.20" r="1.25" fill="#1e7f8e"/>
<circle cx="0.00" cy="5.80" r="1.0" fill="#1e7f8e"/>
<line x1="-1.72" y1="3.14" x2="-5.86" y2="10.72" stroke="#2aa7a6" stroke-width="1.15"/>
<circle cx="-5.86" cy="10.72" r="1.25" fill="#2aa7a6"/>
<circle cx="-2.93" cy="5.36" r="1.0" fill="#2aa7a6"/>
<line x1="-3.17" y1="2.40" x2="-7.65" y2="5.80" stroke="#1e7f8e" stroke-width="1.15"/>
<circle cx="-7.65" cy="5.80" r="1.25" fill="#1e7f8e"/>
<circle cx="-5.41" cy="4.10" r="1.0" fill="#1e7f8e"/>
<line x1="-4.15" y1="1.30" x2="-14.15" y2="4.44" stroke="#2aa7a6" stroke-width="1.15"/>
<circle cx="-14.15" cy="4.44" r="1.25" fill="#2aa7a6"/>
<circle cx="-7.07" cy="2.22" r="1.0" fill="#2aa7a6"/>
<line x1="-4.49" y1="0.00" x2="-10.82" y2="0.00" stroke="#1e7f8e" stroke-width="1.15"/>
<circle cx="-10.82" cy="0.00" r="1.25" fill="#1e7f8e"/>
<circle cx="-7.66" cy="0.00" r="1.0" fill="#1e7f8e"/>
<line x1="-4.15" y1="-1.30" x2="-14.15" y2="-4.44" stroke="#2aa7a6" stroke-width="1.15"/>
<circle cx="-14.15" cy="-4.44" r="1.25" fill="#2aa7a6"/>
<circle cx="-7.07" cy="-2.22" r="1.0" fill="#2aa7a6"/>
<line x1="-3.17" y1="-2.40" x2="-7.65" y2="-5.80" stroke="#1e7f8e" stroke-width="1.15"/>
<circle cx="-7.65" cy="-5.80" r="1.25" fill="#1e7f8e"/>
<circle cx="-5.41" cy="-4.10" r="1.0" fill="#1e7f8e"/>
<line x1="-1.72" y1="-3.14" x2="-5.86" y2="-10.72" stroke="#2aa7a6" stroke-width="1.15"/>
<circle cx="-5.86" cy="-10.72" r="1.25" fill="#2aa7a6"/>
<circle cx="-2.93" cy="-5.36" r="1.0" fill="#2aa7a6"/>
</g>
<text x="611" y="859" font-size="12.2" font-weight="bold" fill="#e8663a" textLength="33.2" lengthAdjust="spacingAndGlyphs">NORD</text>
<text x="645.2" y="852.0" font-size="2.8" fill="#e8663a">®</text>
<text x="611" y="864.3" font-size="3.3" fill="#e8663a" textLength="33.5" lengthAdjust="spacingAndGlyphs">National Organization</text>
<text x="611" y="867.9" font-size="3.3" fill="#5b6f80" textLength="28" lengthAdjust="spacingAndGlyphs">for Rare Disorders</text>
</svg>
</body>
</html>
